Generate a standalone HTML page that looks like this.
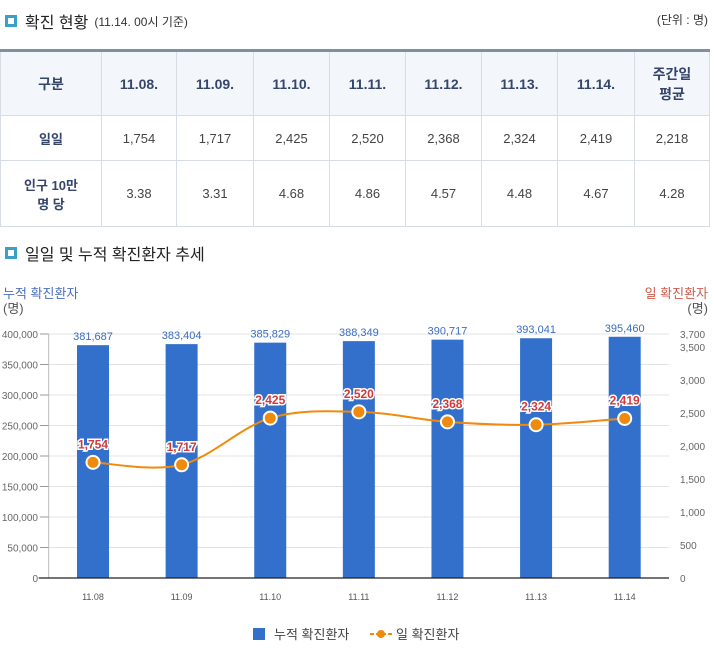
<!DOCTYPE html>
<html><head><meta charset="utf-8">
<style>
body{margin:0;width:714px;height:655px;background:#fff;font-family:"Liberation Sans","Noto Sans CJK KR",sans-serif;color:#333;position:relative;overflow:hidden}
.title{position:absolute;left:5px;font-size:16px;color:#222;display:flex;align-items:center}
.ico{width:8px;height:8px;border:2px solid #3aa0c8;background:#fff;margin-right:8px;box-shadow:inset 0 0 0 1px #3aa0c8}
.sub{font-size:12px;margin-left:6px;color:#333}
table{position:absolute;left:0;top:49px;width:710px;border-collapse:collapse;font-size:13px;table-layout:fixed}
th,td{border:1px solid #d8dde5;text-align:center;color:#444;font-weight:normal}
table tr:first-child th{border-top:3px solid #7e8fa6;background:#f3f7fc;height:61px;font-weight:bold;color:#36456a;font-size:14px}
td{height:42px}
td.h{font-weight:bold;color:#36456a}
tr.r3 td{height:63px}
</style></head><body>
<div class="title" style="top:9px"><span class="ico"></span>확진 현황<span class="sub">(11.14. 00시 기준)</span></div>
<div style="position:absolute;right:6px;top:11px;font-size:12px">(단위 : 명)</div>
<table>
<colgroup><col style="width:101px"><col style="width:75px"><col style="width:77px"><col style="width:76px"><col style="width:76px"><col style="width:76px"><col style="width:76px"><col style="width:77px"><col></colgroup>
<tr><th>구분</th><th>11.08.</th><th>11.09.</th><th>11.10.</th><th>11.11.</th><th>11.12.</th><th>11.13.</th><th>11.14.</th><th>주간일<br>평균</th></tr>
<tr><td class="h">일일</td><td>1,754</td><td>1,717</td><td>2,425</td><td>2,520</td><td>2,368</td><td>2,324</td><td>2,419</td><td>2,218</td></tr>
<tr class="r3"><td class="h">인구 10만<br>명 당</td><td>3.38</td><td>3.31</td><td>4.68</td><td>4.86</td><td>4.57</td><td>4.48</td><td>4.67</td><td>4.28</td></tr>
</table>
<div class="title" style="top:241px"><span class="ico"></span>일일 및 누적 확진환자 추세</div>
<svg id="chart" width="714" height="655" style="position:absolute;left:0;top:0"></svg>
<script>
const categories=["11.08","11.09","11.10","11.11","11.12","11.13","11.14"];
const cumulative=[381687,383404,385829,388349,390717,393041,395460];
const daily=[1754,1717,2425,2520,2368,2324,2419];
const leftTicks=[0,50000,100000,150000,200000,250000,300000,350000,400000];
const rightTicks=[0,500,1000,1500,2000,2500,3000,3500,3700];
const NS="http://www.w3.org/2000/svg";
const svg=document.getElementById('chart');
const X0=48.7,X1=669,Y0=578,Y1=334;
const bw=(X1-X0)/categories.length;
const xc=i=>X0+bw*(i+0.5);
const yL=v=>Y0-(v/400000)*(Y0-Y1);
const yR=v=>Y0-(v/3700)*(Y0-Y1);
function mk(tag,a,txt){const e=document.createElementNS(NS,tag);for(const k in a)e.setAttribute(k,a[k]);if(txt!=null)e.textContent=txt;svg.appendChild(e);return e;}
const fmt=v=>v.toLocaleString('en-US');
leftTicks.forEach(t=>{
 if(t>0){const g=mk('line',{x1:X0,x2:X1,y1:yL(t),y2:yL(t),stroke:'#e3e3e3'});}
 const l=mk('text',{x:38,y:yL(t)+4,'text-anchor':'end','font-size':10,fill:'#666'},fmt(t));
 
 
 mk('line',{x1:40,x2:X0,y1:yL(t),y2:yL(t),stroke:'#999'});
});
mk('line',{x1:X0,x2:X0,y1:Y1,y2:Y0,stroke:'#bbb'});
rightTicks.forEach(t=>{
 const l=mk('text',{x:680,y:yR(t)+4,'font-size':10,fill:'#666'},fmt(t));
 
 
});
cumulative.forEach((v,i)=>{
 const b=mk('rect',{x:xc(i)-16,y:yL(v),width:32,height:Y0-yL(v),fill:'#3370cc'});
 
 
 const t=mk('text',{x:xc(i),y:yL(v)-5,'text-anchor':'middle','font-size':11,fill:'#3a6cc0'},fmt(v));
 
 
 const c=mk('text',{x:xc(i),y:600,'text-anchor':'middle','font-size':9,fill:'#555'},categories[i]);
 
 
});
mk('line',{x1:X0-10,x2:X1,y1:Y0,y2:Y0,stroke:'#222','stroke-width':1.2});
const pts=daily.map((v,i)=>[xc(i),yR(v)]);
let d='M'+pts[0][0]+','+pts[0][1];
for(let i=0;i<pts.length-1;i++){
 const p0=pts[Math.max(i-1,0)],p1=pts[i],p2=pts[i+1],p3=pts[Math.min(i+2,pts.length-1)];
 const k=1/6;
 d+=` C${p1[0]+(p2[0]-p0[0])*k},${p1[1]+(p2[1]-p0[1])*k} ${p2[0]-(p3[0]-p1[0])*k},${p2[1]-(p3[1]-p1[1])*k} ${p2[0]},${p2[1]}`;
}
const ln=mk('path',{d:d,fill:'none',stroke:'#f08a0c','stroke-width':2});


daily.forEach((v,i)=>{
 const c=mk('circle',{cx:xc(i),cy:yR(v),r:6.5,fill:'#f08a0c',stroke:'#fff','stroke-width':2});
 
 
 const t=mk('text',{x:xc(i),y:yR(v)-14,'text-anchor':'middle','font-size':12,'font-weight':'bold',fill:'#d23a3a',stroke:'#fff','stroke-width':3,'paint-order':'stroke'},fmt(v));
 
 
});
</script>
<div style="position:absolute;left:3px;top:286px;font-size:13px;color:#4a6fc0;line-height:15px">누적 확진환자<br><span style="color:#555">(명)</span></div>
<div style="position:absolute;right:6px;top:286px;font-size:13px;color:#d25a4a;line-height:15px;text-align:right">일 확진환자<br><span style="color:#555">(명)</span></div>
<div style="position:absolute;left:253px;top:624px;font-size:13px;color:#444;display:flex;align-items:center"><span style="width:12px;height:12px;background:#3370cc;margin-right:9px;display:inline-block"></span>누적 확진환자</div>
<div style="position:absolute;left:370px;top:624px;font-size:13px;color:#444;display:flex;align-items:center"><svg width="22" height="12" style="margin-right:4px"><line x1="0" y1="6" x2="22" y2="6" stroke="#f08a0c" stroke-width="2" stroke-dasharray="4,2"/><circle cx="11" cy="6" r="4" fill="#f08a0c"/></svg>일 확진환자</div>
</body></html>
